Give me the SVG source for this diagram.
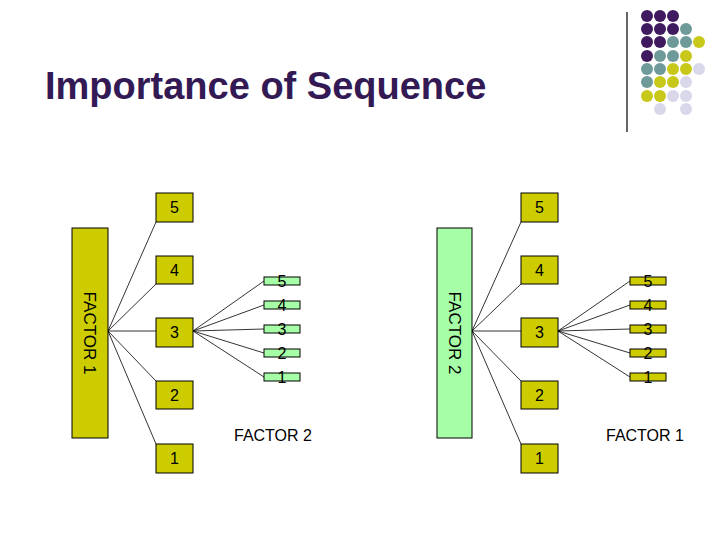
<svg xmlns="http://www.w3.org/2000/svg" width="720" height="540" viewBox="0 0 720 540">
<style>
text{font-family:"Liberation Sans",Arial,sans-serif;fill:#000}
.y{fill:#cccc00;stroke:#000;stroke-width:1}
.g{fill:#a6ffa6;stroke:#000;stroke-width:1}
.n{font-size:16px;text-anchor:middle}
.c line{stroke:#000;stroke-width:0.8}
.P{fill:#3f1a5e}.T{fill:#6f9a9a}.Y{fill:#c8c81a}.L{fill:#d8d8ea}
</style>
<rect width="720" height="540" fill="#fff"/>
<text x="45" y="99" font-size="38" font-weight="bold" style="fill:#331a55">Importance of Sequence</text>
<line x1="627" y1="12" x2="627" y2="132" stroke="#000" stroke-width="1.2"/>
<g id="dots">
<circle class="P" cx="647" cy="16" r="6"/><circle class="P" cx="660" cy="16" r="6"/><circle class="P" cx="673" cy="16" r="6"/>
<circle class="P" cx="647" cy="29" r="6"/><circle class="P" cx="660" cy="29" r="6"/><circle class="P" cx="673" cy="29" r="6"/><circle class="T" cx="686" cy="29" r="6"/>
<circle class="P" cx="647" cy="42" r="6"/><circle class="P" cx="660" cy="42" r="6"/><circle class="T" cx="673" cy="42" r="6"/><circle class="T" cx="686" cy="42" r="6"/><circle class="Y" cx="699" cy="42" r="6"/>
<circle class="P" cx="647" cy="56" r="6"/><circle class="T" cx="660" cy="56" r="6"/><circle class="T" cx="673" cy="56" r="6"/><circle class="Y" cx="686" cy="56" r="6"/>
<circle class="T" cx="647" cy="69" r="6"/><circle class="T" cx="660" cy="69" r="6"/><circle class="Y" cx="673" cy="69" r="6"/><circle class="Y" cx="686" cy="69" r="6"/><circle class="L" cx="699" cy="69" r="6"/>
<circle class="T" cx="647" cy="82" r="6"/><circle class="Y" cx="660" cy="82" r="6"/><circle class="Y" cx="673" cy="82" r="6"/><circle class="L" cx="686" cy="82" r="6"/>
<circle class="Y" cx="647" cy="96" r="6"/><circle class="Y" cx="660" cy="96" r="6"/><circle class="L" cx="673" cy="96" r="6"/><circle class="L" cx="686" cy="96" r="6"/>
<circle class="L" cx="660" cy="109" r="6"/><circle class="L" cx="686" cy="109" r="6"/>
</g>
<g id="connectors" class="c">
<line x1="108" y1="331" x2="156" y2="222"/><line x1="108" y1="331" x2="156" y2="284"/><line x1="108" y1="331" x2="156" y2="331"/><line x1="108" y1="331" x2="156" y2="381"/><line x1="108" y1="331" x2="156" y2="444"/>
<line x1="193" y1="331" x2="264" y2="281"/><line x1="193" y1="331" x2="264" y2="305"/><line x1="193" y1="331" x2="264" y2="329"/><line x1="193" y1="331" x2="264" y2="353"/><line x1="193" y1="331" x2="264" y2="377"/>
<line x1="472" y1="331" x2="521" y2="222"/><line x1="472" y1="331" x2="521" y2="284"/><line x1="472" y1="331" x2="521" y2="331"/><line x1="472" y1="331" x2="521" y2="381"/><line x1="472" y1="331" x2="521" y2="444"/>
<line x1="558" y1="331" x2="630" y2="281"/><line x1="558" y1="331" x2="630" y2="305"/><line x1="558" y1="331" x2="630" y2="329"/><line x1="558" y1="331" x2="630" y2="353"/><line x1="558" y1="331" x2="630" y2="377"/>
</g>
<g id="factor1-left"><rect class="y" x="72" y="228" width="36" height="210"/><text transform="translate(84,333) rotate(90)" font-size="17" text-anchor="middle">FACTOR 1</text></g>
<g id="L5"><rect class="y" x="156" y="193" width="37" height="29"/><text class="n" x="174.5" y="213">5</text></g>
<g id="L4"><rect class="y" x="156" y="256" width="37" height="28"/><text class="n" x="174.5" y="276">4</text></g>
<g id="L3"><rect class="y" x="156" y="318" width="37" height="29"/><text class="n" x="174.5" y="338">3</text></g>
<g id="L2"><rect class="y" x="156" y="381" width="37" height="28"/><text class="n" x="174.5" y="401">2</text></g>
<g id="L1"><rect class="y" x="156" y="444" width="37" height="29"/><text class="n" x="174.5" y="464">1</text></g>
<g id="l5"><rect class="g" x="264" y="277" width="36" height="8"/><text class="n" x="282" y="287">5</text></g>
<g id="l4"><rect class="g" x="264" y="301" width="36" height="8"/><text class="n" x="282" y="311">4</text></g>
<g id="l3"><rect class="g" x="264" y="325" width="36" height="8"/><text class="n" x="282" y="335">3</text></g>
<g id="l2"><rect class="g" x="264" y="349" width="36" height="8"/><text class="n" x="282" y="359">2</text></g>
<g id="l1"><rect class="g" x="264" y="373" width="36" height="8"/><text class="n" x="282" y="383">1</text></g>
<text x="234" y="441" font-size="16">FACTOR 2</text>
<g id="factor2-right"><rect class="g" x="437" y="228" width="35" height="210"/><text transform="translate(449,333) rotate(90)" font-size="17" text-anchor="middle">FACTOR 2</text></g>
<g id="R5"><rect class="y" x="521" y="193" width="37" height="29"/><text class="n" x="539.5" y="213">5</text></g>
<g id="R4"><rect class="y" x="521" y="256" width="37" height="28"/><text class="n" x="539.5" y="276">4</text></g>
<g id="R3"><rect class="y" x="521" y="318" width="37" height="29"/><text class="n" x="539.5" y="338">3</text></g>
<g id="R2"><rect class="y" x="521" y="381" width="37" height="28"/><text class="n" x="539.5" y="401">2</text></g>
<g id="R1"><rect class="y" x="521" y="444" width="37" height="29"/><text class="n" x="539.5" y="464">1</text></g>
<g id="r5"><rect class="y" x="630" y="277" width="36" height="8"/><text class="n" x="648" y="287">5</text></g>
<g id="r4"><rect class="y" x="630" y="301" width="36" height="8"/><text class="n" x="648" y="311">4</text></g>
<g id="r3"><rect class="y" x="630" y="325" width="36" height="8"/><text class="n" x="648" y="335">3</text></g>
<g id="r2"><rect class="y" x="630" y="349" width="36" height="8"/><text class="n" x="648" y="359">2</text></g>
<g id="r1"><rect class="y" x="630" y="373" width="36" height="8"/><text class="n" x="648" y="383">1</text></g>
<text x="606" y="441" font-size="16">FACTOR 1</text>
</svg>
